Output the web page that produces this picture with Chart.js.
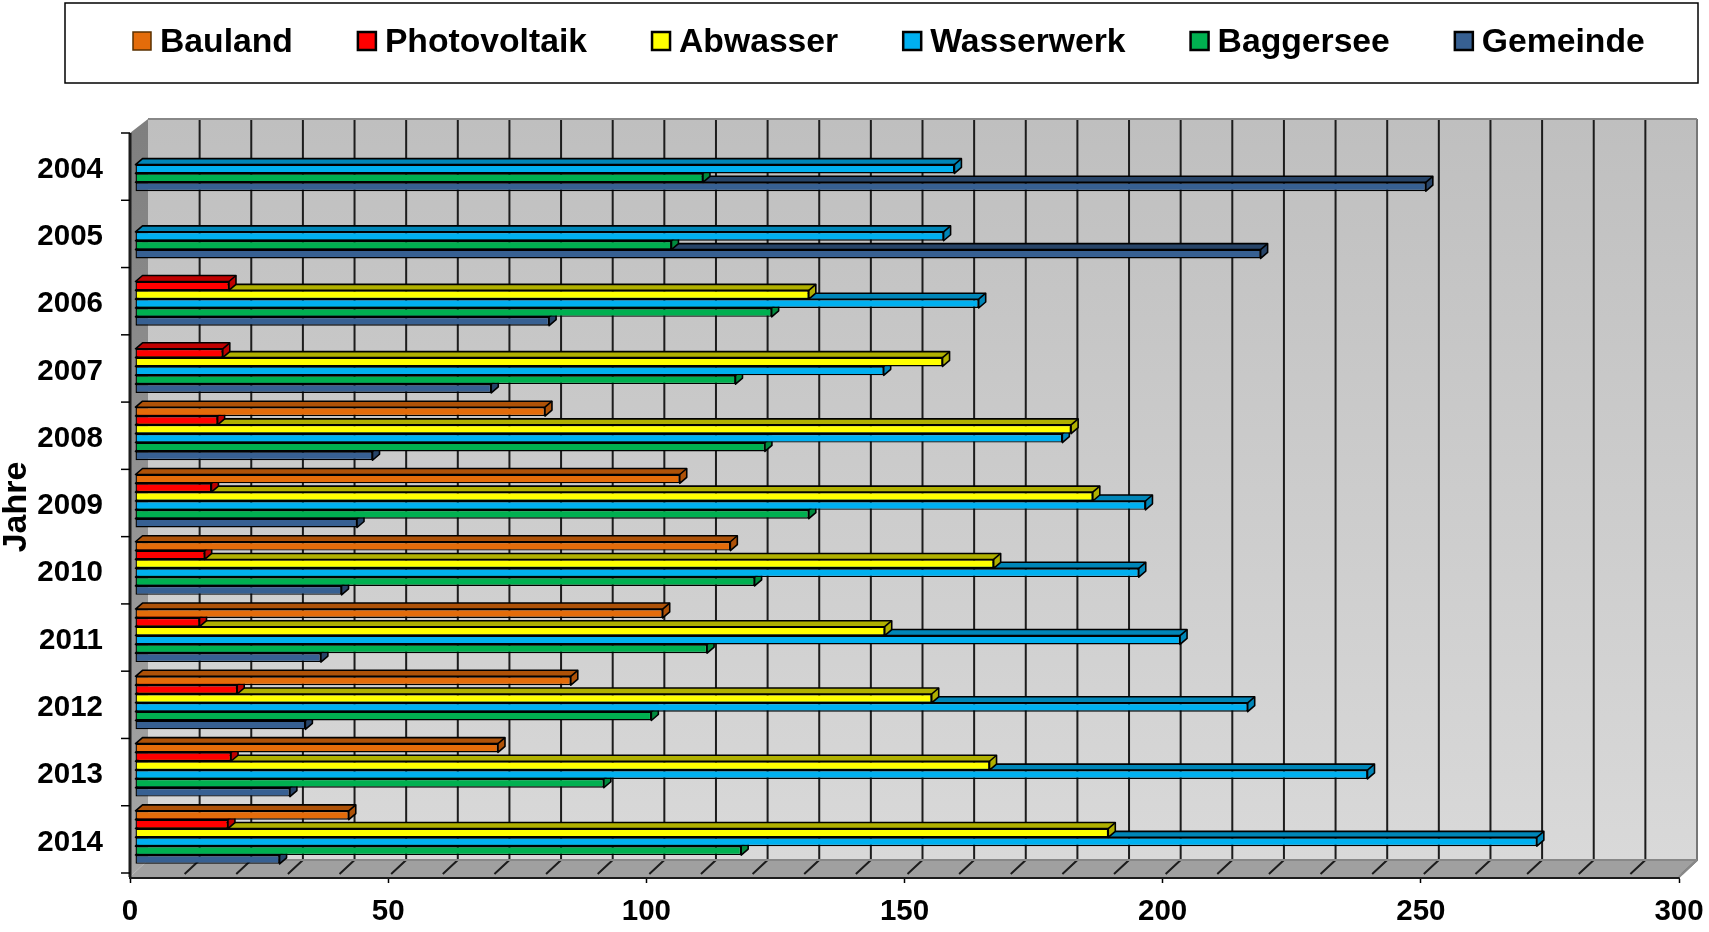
<!DOCTYPE html>
<html>
<head>
<meta charset="utf-8">
<title>Jahre</title>
<script src="https://cdn.jsdelivr.net/npm/chart.js@4/dist/chart.umd.min.js"></script>
<style>
  html, body { margin: 0; background: #fff; }
  canvas { display: block; }
</style>
</head>
<body>
<canvas id="chart" width="1709" height="932"></canvas>
<script>
const years = ["2004", "2005", "2006", "2007", "2008", "2009", "2010", "2011", "2012", "2013", "2014"];
const bauland = [null, null, null, null, 79.4, 105.5, 115.3, 102.2, 84.4, 70.3, 41.4];
const photovoltaik = [null, null, 18.2, 17, 16, 14.8, 13.5, 12.5, 19.8, 18.6, 18];
const abwasser = [null, null, 130.5, 156.4, 181.3, 185.5, 166.3, 145.2, 154.3, 165.5, 188.5];
const wasserwerk = [158.7, 156.6, 163.4, 145, 179.6, 195.7, 194.4, 202.4, 215.5, 238.7, 271.5];
const baggersee = [110, 103.9, 123.3, 116.3, 122, 130.5, 120, 110.8, 100, 90.8, 117.4];
const gemeinde = [250, 218, 80.2, 69, 46, 43, 40, 36, 33, 30, 28];

const FONT = '"Liberation Sans", Arial, sans-serif';

// front colour, colour of the top and side faces
const seriesColors = [
  ["#E46C0A", "#AE5208"],
  ["#FF0000", "#C00000"],
  ["#FFFF00", "#B0B000"],
  ["#00B0F0", "#0086B8"],
  ["#00B050", "#008A3E"],
  ["#376092", "#274468"],
];

function makeDataset(label, data, i) {
  return {
    label: label,
    data: data,
    backgroundColor: seriesColors[i][0],
    borderColor: "#000",
    borderWidth: 1.4,
    borderSkipped: false,
    clip: false,
  };
}

// the bars stand a little inside the 3d box
const BAR_DX = 5;
const BAR_DY = -6;
const BAR_DEPTH_X = 7;
const BAR_DEPTH_Y = 6;
const WALL_DX = 18;
const WALL_DY = 17;

const box3d = {
  id: "box3d",
  beforeDatasetsDraw(chart) {
    const { ctx, chartArea: a, scales } = chart;
    const backLeft = a.left + WALL_DX;
    const backRight = a.right + WALL_DX;
    const backBottom = a.bottom - WALL_DY;
    const wallTop = 119;

    ctx.save();
    let grad = ctx.createLinearGradient(0, wallTop, 0, backBottom);
    grad.addColorStop(0, "#BFBFBF");
    grad.addColorStop(1, "#D9D9D9");
    ctx.fillStyle = grad;
    ctx.fillRect(backLeft, wallTop, backRight - backLeft, backBottom - wallTop);

    // floor
    ctx.fillStyle = "#A0A0A0";
    ctx.beginPath();
    ctx.moveTo(a.left, a.bottom);
    ctx.lineTo(backLeft, backBottom);
    ctx.lineTo(backRight, backBottom);
    ctx.lineTo(a.right, a.bottom);
    ctx.closePath();
    ctx.fill();

    // grid on wall and floor
    scales.x.ticks.forEach((t) => {
      const px = scales.x.getPixelForValue(t.value);
      if (t.value === 0) return;
      ctx.strokeStyle = t.value === 300 ? "#777" : "#1c1c1c";
      ctx.lineWidth = 2;
      ctx.beginPath();
      ctx.moveTo(px + WALL_DX, wallTop);
      ctx.lineTo(px + WALL_DX, backBottom);
      ctx.lineTo(px + 3, a.bottom - 3);
      ctx.stroke();
    });

    // outline of the back wall
    ctx.strokeStyle = "#888";
    ctx.lineWidth = 2;
    ctx.beginPath();
    ctx.moveTo(backLeft, wallTop);
    ctx.lineTo(backRight, wallTop);
    ctx.moveTo(backLeft, backBottom);
    ctx.lineTo(backRight, backBottom);
    ctx.moveTo(a.right, a.bottom);
    ctx.lineTo(backRight, backBottom);
    ctx.stroke();

    // left wall
    grad = ctx.createLinearGradient(0, wallTop, 0, a.bottom);
    grad.addColorStop(0, "#7F7F7F");
    grad.addColorStop(1, "#A6A6A6");
    ctx.fillStyle = grad;
    ctx.beginPath();
    ctx.moveTo(a.left, 133);
    ctx.lineTo(backLeft, wallTop);
    ctx.lineTo(backLeft, backBottom);
    ctx.lineTo(a.left, a.bottom);
    ctx.closePath();
    ctx.fill();
    ctx.strokeStyle = "#1c1c1c";
    ctx.lineWidth = 3;
    ctx.beginPath();
    ctx.moveTo(a.left, 133);
    ctx.lineTo(a.left, a.bottom);
    ctx.stroke();

    // year ticks sit on the band edges, 4px above the plane of the x axis
    const band = (a.bottom - a.top) / years.length;
    ctx.strokeStyle = "#000";
    ctx.lineWidth = 1.5;
    for (let i = 0; i <= years.length; i++) {
      const y = a.top + band * i - 4;
      ctx.beginPath();
      ctx.moveTo(a.left - 9, y);
      ctx.lineTo(a.left, y);
      ctx.stroke();
    }
    ctx.restore();

    ctx.save();
    ctx.translate(BAR_DX, BAR_DY);
  },
  beforeDatasetDraw(chart, args) {
    const { ctx } = chart;
    const shade = seriesColors[args.index][1];
    const values = chart.data.datasets[args.index].data;
    ctx.save();
    ctx.fillStyle = shade;
    ctx.strokeStyle = "#000";
    ctx.lineWidth = 1.6;
    ctx.lineJoin = "round";
    args.meta.data.forEach((bar, i) => {
      if (values[i] === null) return;
      const top = bar.y - bar.height / 2;
      const bottom = bar.y + bar.height / 2;
      ctx.beginPath();
      ctx.moveTo(bar.base, top);
      ctx.lineTo(bar.base + BAR_DEPTH_X, top - BAR_DEPTH_Y);
      ctx.lineTo(bar.x + BAR_DEPTH_X, top - BAR_DEPTH_Y);
      ctx.lineTo(bar.x + BAR_DEPTH_X, bottom - BAR_DEPTH_Y);
      ctx.lineTo(bar.x, bottom);
      ctx.lineTo(bar.x, top);
      ctx.closePath();
      ctx.fill();
      ctx.stroke();
      ctx.beginPath();
      ctx.moveTo(bar.x, top);
      ctx.lineTo(bar.x + BAR_DEPTH_X, top - BAR_DEPTH_Y);
      ctx.stroke();
    });
    ctx.restore();
  },
  afterDatasetsDraw(chart) {
    chart.ctx.restore();
  },
};

const legendBox = {
  id: "legendBox",
  afterDraw(chart) {
    const { ctx } = chart;
    ctx.save();
    ctx.strokeStyle = "#000";
    ctx.lineWidth = 1.5;
    ctx.strokeRect(65, 3, 1633, 80);
    ctx.font = "bold 33.7px " + FONT;
    ctx.textBaseline = "middle";
    ctx.textAlign = "left";
    let x = 133;
    chart.data.datasets.forEach((ds, i) => {
      ctx.fillStyle = seriesColors[i][0];
      ctx.fillRect(x, 32, 18, 18);
      ctx.strokeStyle = i === 0 ? "#5a3000" : "#000";
      ctx.lineWidth = i === 0 ? 1.5 : 2.5;
      ctx.strokeRect(x, 32, 18, 18);
      ctx.fillStyle = "#000";
      ctx.fillText(ds.label, x + 27, 43);
      x += 27 + ctx.measureText(ds.label).width + 65;
    });
    ctx.restore();
  },
};

const ctx = document.getElementById("chart").getContext("2d");

new Chart(ctx, {
  type: "bar",
  plugins: [box3d, legendBox],
  data: {
    labels: years,
    datasets: [
      makeDataset("Bauland", bauland, 0),
      makeDataset("Photovoltaik", photovoltaik, 1),
      makeDataset("Abwasser", abwasser, 2),
      makeDataset("Wasserwerk", wasserwerk, 3),
      makeDataset("Baggersee", baggersee, 4),
      makeDataset("Gemeinde", gemeinde, 5),
    ],
  },
  options: {
    indexAxis: "y",
    responsive: false,
    animation: false,
    layout: { padding: { top: 137, right: 30 } },
    categoryPercentage: 0.788,
    barPercentage: 1,
    scales: {
      x: {
        min: 0,
        max: 300,
        afterFit(scale) {
          scale.height = 55;
          scale.paddingLeft = 0;
          scale.paddingRight = 0;
        },
        ticks: {
          stepSize: 10,
          autoSkip: false,
          maxRotation: 0,
          padding: 11,
          color: "#000",
          font: { family: FONT, weight: "bold", size: 29.5 },
          callback: (v) => (v % 50 === 0 ? v : ""),
        },
        grid: {
          drawOnChartArea: false,
          tickLength: 6,
          tickWidth: 1.5,
          tickColor: (c) => (c.tick && c.tick.value % 50 === 0 ? "#000" : "rgba(0,0,0,0)"),
        },
        border: { color: "#1c1c1c", width: 3 },
      },
      y: {
        afterFit(scale) {
          scale.width = 130;
        },
        title: {
          display: true,
          text: "Jahre",
          color: "#000",
          font: { family: FONT, weight: "bold", size: 34, lineHeight: 1 },
          padding: { top: 0, bottom: 0, y: 0 },
        },
        ticks: {
          padding: 19,
          labelOffset: -1,
          color: "#000",
          font: { family: FONT, weight: "bold", size: 29.5 },
        },
        grid: { display: false },
        border: { display: false },
      },
    },
    plugins: {
      legend: { display: false },
      tooltip: { enabled: false },
    },
  },
});
</script>
</body>
</html>
